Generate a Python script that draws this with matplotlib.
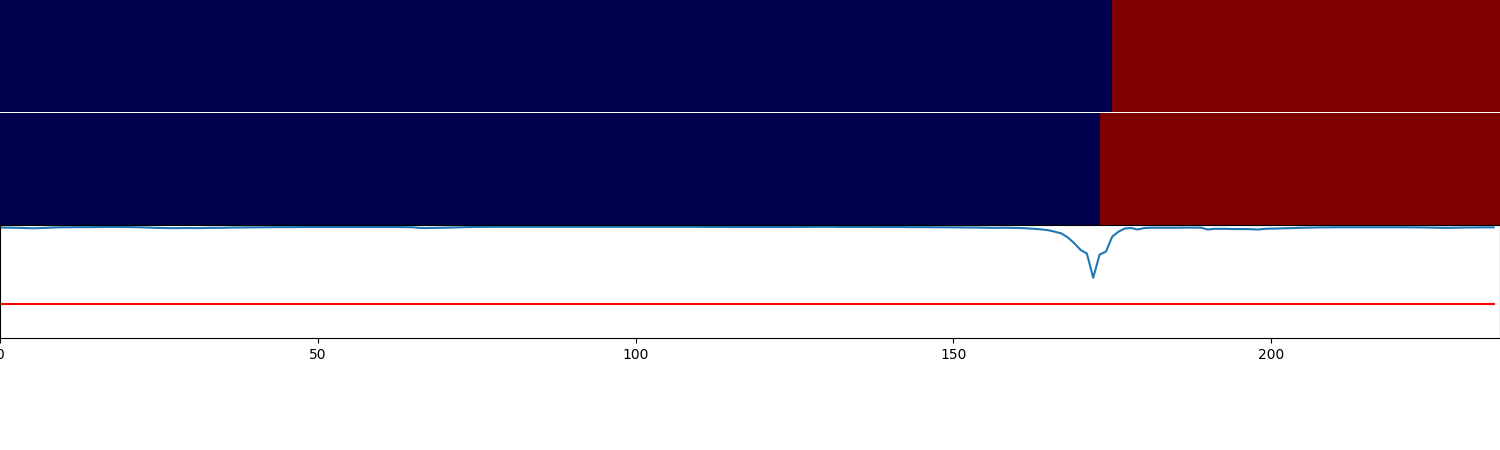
#!/usr/bin/env python3

import numpy as np
import matplotlib
matplotlib.use("Agg")
import matplotlib.pyplot as plt

# =====================================================
# DATA
# =====================================================

N_STEPS = 236

# index where each state strip switches from 0 (blue) to 1 (red)
TOP_SWITCH = 175
MID_SWITCH = 173

THRESHOLD = 0.3

score = [
    0.978, 0.977, 0.976, 0.975, 0.973, 0.971, 0.972, 0.974, 0.977, 0.979,
    0.980, 0.980, 0.981, 0.981, 0.981, 0.982, 0.982, 0.983, 0.983, 0.982,
    0.982, 0.981, 0.980, 0.978, 0.976, 0.974, 0.973, 0.972, 0.972, 0.973,
    0.973, 0.972, 0.973, 0.975, 0.975, 0.975, 0.977, 0.978, 0.978, 0.979,
    0.979, 0.980, 0.980, 0.981, 0.981, 0.981, 0.981, 0.982, 0.982, 0.982,
    0.982, 0.982, 0.982, 0.982, 0.982, 0.982, 0.982, 0.982, 0.982, 0.982,
    0.982, 0.982, 0.982, 0.982, 0.981, 0.980, 0.974, 0.973, 0.974, 0.975,
    0.976, 0.978, 0.979, 0.981, 0.982, 0.983, 0.983, 0.984, 0.984, 0.984,
    0.984, 0.984, 0.984, 0.984, 0.984, 0.984, 0.984, 0.984, 0.984, 0.984,
    0.984, 0.984, 0.984, 0.984, 0.984, 0.984, 0.984, 0.984, 0.984, 0.984,
    0.984, 0.984, 0.984, 0.984, 0.984, 0.984, 0.984, 0.984, 0.984, 0.984,
    0.984, 0.983, 0.983, 0.983, 0.983, 0.982, 0.982, 0.982, 0.982, 0.982,
    0.982, 0.982, 0.982, 0.982, 0.982, 0.982, 0.983, 0.983, 0.984, 0.984,
    0.984, 0.984, 0.983, 0.983, 0.983, 0.983, 0.983, 0.983, 0.982, 0.982,
    0.982, 0.982, 0.982, 0.981, 0.981, 0.981, 0.981, 0.980, 0.980, 0.980,
    0.979, 0.979, 0.978, 0.978, 0.977, 0.976, 0.975, 0.975, 0.976, 0.975,
    0.974, 0.972, 0.969, 0.965, 0.960, 0.953, 0.940, 0.925, 0.890, 0.840,
    0.780, 0.747, 0.533, 0.738, 0.764, 0.898, 0.942, 0.970, 0.973, 0.960,
    0.973, 0.976, 0.976, 0.976, 0.976, 0.976, 0.977, 0.977, 0.977, 0.976,
    0.960, 0.966, 0.966, 0.966, 0.964, 0.964, 0.964, 0.962, 0.960, 0.966,
    0.968, 0.969, 0.971, 0.972, 0.974, 0.976, 0.977, 0.978, 0.979, 0.979,
    0.980, 0.980, 0.980, 0.980, 0.980, 0.980, 0.980, 0.980, 0.980, 0.980,
    0.980, 0.980, 0.979, 0.979, 0.978, 0.977, 0.976, 0.975, 0.975, 0.976,
    0.977, 0.978, 0.978, 0.979, 0.979, 0.979,
]

# =====================================================


def main():

    steps = np.arange(N_STEPS)

    top_state = (steps >= TOP_SWITCH).astype(float)[np.newaxis, :]
    mid_state = (steps >= MID_SWITCH).astype(float)[np.newaxis, :]

    fig = plt.figure(figsize=(15, 4.5), dpi=100)

    ax1 = fig.add_axes([0, 0.7515, 1, 0.2485])
    ax2 = fig.add_axes([0, 0.5, 1, 0.249])
    ax3 = fig.add_axes([0, 0.249, 1, 0.251])

    for ax, state in [(ax1, top_state), (ax2, mid_state)]:
        ax.imshow(state, cmap="seismic", vmin=0, vmax=1,
                  aspect="auto", interpolation="nearest",
                  extent=[0, N_STEPS, 0, 1])
        ax.set_xlim(0, N_STEPS)
        ax.axis("off")

    ax3.plot(steps, score)
    ax3.plot(steps, [THRESHOLD] * N_STEPS, color="red")
    ax3.set_xlim(0, N_STEPS)
    ax3.set_ylim(0, 1)
    ax3.set_yticks([])

    fig.savefig("out.png", dpi=100)
    plt.close(fig)


if __name__ == "__main__":
    main()
